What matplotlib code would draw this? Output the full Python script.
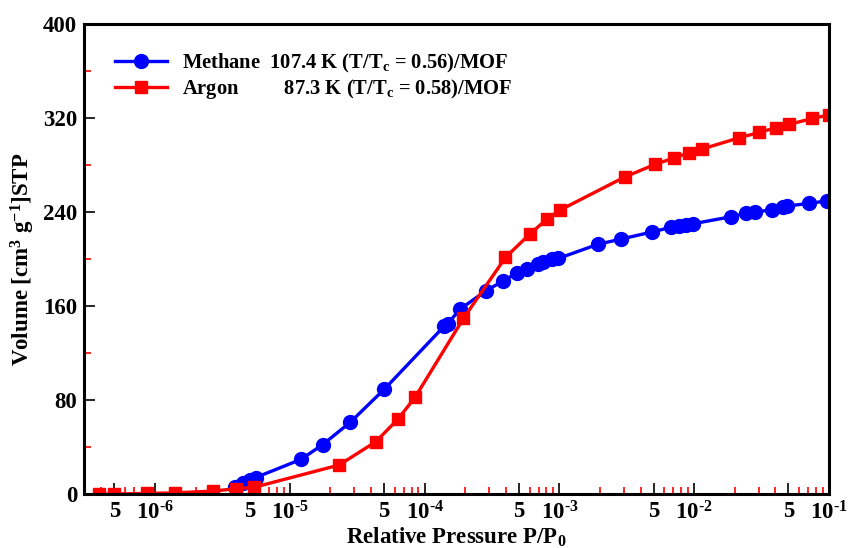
import matplotlib.pyplot as plt
from matplotlib.ticker import FixedLocator, FixedFormatter

plt.rcParams['font.family'] = 'Liberation Serif'
plt.rcParams['font.weight'] = 'bold'
plt.rcParams['mathtext.fontset'] = 'custom'
plt.rcParams['mathtext.rm'] = 'Liberation Serif:bold'
plt.rcParams['mathtext.bf'] = 'Liberation Serif:bold'
plt.rcParams['mathtext.it'] = 'Liberation Serif:bold'

# Methane 107.4 K
methane_p = [3.92e-6, 4.52e-6, 5.07e-6, 5.57e-6, 1.21e-5, 1.75e-5, 2.80e-5, 5.0e-5,
             1.40e-4, 1.48e-4, 1.84e-4, 2.85e-4, 3.84e-4, 4.82e-4, 5.78e-4, 6.90e-4,
             7.6e-4, 8.77e-4, 9.8e-4, 1.92e-3, 2.86e-3, 4.84e-3, 6.70e-3, 7.75e-3,
             8.7e-3, 9.75e-3, 1.87e-2, 2.42e-2, 2.82e-2, 3.76e-2, 4.58e-2, 4.85e-2,
             7.14e-2, 9.7e-2]
methane_v = [6, 9, 12, 14, 29.5, 42, 61, 89,
             143, 145, 157.5, 173, 181.5, 188, 191.5, 195.5,
             197.5, 200, 200.5, 212.5, 217, 223, 227, 228,
             229, 230, 236, 239, 240, 242, 244, 245,
             247.5, 249.5]

# Argon 87.3 K
argon_p = [3.86e-7, 4.96e-7, 8.67e-7, 1.41e-6, 2.68e-6, 3.99e-6, 5.42e-6, 2.32e-5,
           4.34e-5, 6.31e-5, 8.49e-5, 1.94e-4, 3.98e-4, 6.05e-4, 8.05e-4, 1.01e-3,
           3.07e-3, 5.12e-3, 7.12e-3, 9.2e-3, 1.14e-2, 2.15e-2, 3.03e-2, 4.04e-2,
           5.05e-2, 7.52e-2, 1.0e-1]
argon_v = [0, 0, 0.5, 1, 2.5, 4.5, 5.7, 24.7,
           44.5, 63.5, 82.3, 149.5, 201.4, 221.5, 233.8, 241.7,
           270, 280.6, 286.2, 290.5, 293.6, 303.2, 307.8, 311.8,
           314.6, 319.7, 322.6]

x_major = [5e-7, 1e-6, 5e-6, 1e-5, 5e-5, 1e-4, 5e-4, 1e-3, 5e-3, 1e-2, 5e-2, 1e-1]
x_major_labels = ['5', '10$^{\u20106}$', '5', '10$^{\u20105}$', '5', '10$^{\u20104}$',
                  '5', '10$^{\u20103}$', '5', '10$^{\u20102}$', '5', '10$^{\u20101}$']
y_major = [0, 80, 160, 240, 320, 400]
y_minor = [40, 120, 200, 280, 360]

fig = plt.figure(figsize=(8.52, 5.48), dpi=100)
ax = fig.add_axes([0.0986, 0.0985, 0.8744, 0.8575])

ax.plot(methane_p, methane_v, color='#0000ff', lw=2.4, marker='o', ms=10,
        label='Methane  107.4 K (T/T$_c$ = 0.56)/MOF')
ax.plot(argon_p, argon_v, color='#ff0000', lw=2.4, marker='s', ms=8.5,
        label='Argon         87.3 K (T/T$_c$ = 0.58)/MOF')

ax.set_xscale('log')
ax.set_xlim(2.97e-7, 1e-1)
ax.set_ylim(0, 400)

ax.xaxis.set_major_locator(FixedLocator(x_major))
ax.xaxis.set_major_formatter(FixedFormatter(x_major_labels))
minors = []
for e in range(-7, -1):
    for m in [2, 3, 4, 6, 7, 8, 9]:
        v = m * 10.0 ** e
        if 2.97e-7 < v < 1e-1:
            minors.append(v)
ax.xaxis.set_minor_locator(FixedLocator(minors))
ax.xaxis.set_minor_formatter(FixedFormatter([''] * len(minors)))
ax.yaxis.set_major_locator(FixedLocator(y_major))
ax.yaxis.set_minor_locator(FixedLocator(y_minor))

ax.tick_params(which='major', direction='in', length=8, width=1.2, color='black',
               labelsize=16.5, top=False, right=False, pad=5)
ax.tick_params(which='minor', direction='in', length=5, width=1.2, color='red',
               top=False, right=False)
for lab in ax.get_xticklabels() + ax.get_yticklabels():
    lab.set_fontweight('bold')

for s in ax.spines.values():
    s.set_linewidth(2.2)

ax.set_xlabel('Relative Pressure P/P$_0$', fontsize=16.5, fontweight='bold', labelpad=1)
ax.set_ylabel('Volume [cm$^3$ g$^{-1}$]STP', fontsize=16.5, fontweight='bold', labelpad=4)

ax.legend(loc='upper left', bbox_to_anchor=(0.017, 0.98), frameon=False,
          handlelength=2.5, handletextpad=0.75, labelspacing=0.1,
          prop={'weight': 'bold', 'size': 14.8})

fig.savefig('out.png', dpi=100)
